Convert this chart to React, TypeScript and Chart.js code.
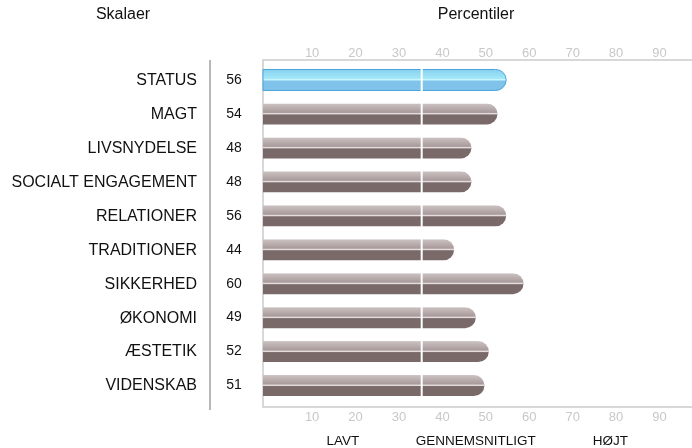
import React, { useEffect, useRef } from "react";
import { Chart, registerables } from "chart.js";

Chart.register(...registerables);

const CATEGORIES = [
  "STATUS",
  "MAGT",
  "LIVSNYDELSE",
  "SOCIALT ENGAGEMENT",
  "RELATIONER",
  "TRADITIONER",
  "SIKKERHED",
  "ØKONOMI",
  "ÆSTETIK",
  "VIDENSKAB",
];
const VALUES = [56, 54, 48, 48, 56, 44, 60, 49, 52, 51];
const HIGHLIGHT = [true, false, false, false, false, false, false, false, false, false];
const X_TICKS = [10, 20, 30, 40, 50, 60, 70, 80, 90];
const AVERAGE_LINE = 36.55;
const BAND_LABELS = ["LAVT", "GENNEMSNITLIGT", "HØJT"];
const BAND_POSITIONS = [18.4, 49, 80];

const FONT = "'Liberation Sans', Arial, sans-serif";

const drawPlugin = {
  id: "customDraw",
  afterDatasetsDraw(chart: any) {
    const ctx: CanvasRenderingContext2D = chart.ctx;
    const xs = chart.scales.x;
    const area = chart.chartArea;
    const meta = chart.getDatasetMeta(0);
    const frameTop = area.top - 3;
    const frameBottom = area.bottom + 4.5;
    const left = area.left;

    ctx.save();
    // frame
    ctx.strokeStyle = "#cccccc";
    ctx.lineWidth = 1.5;
    ctx.beginPath();
    ctx.moveTo(chart.width, frameTop);
    ctx.lineTo(left, frameTop);
    ctx.lineTo(left, frameBottom);
    ctx.lineTo(chart.width, frameBottom);
    ctx.stroke();

    // separator line in the label column
    ctx.strokeStyle = "#a0a0a0";
    ctx.lineWidth = 1.5;
    ctx.beginPath();
    ctx.moveTo(210, frameTop);
    ctx.lineTo(210, frameBottom + 3);
    ctx.stroke();

    // bars
    meta.data.forEach((el: any, i: number) => {
      const p = el.getProps(["x", "y", "base", "height"], true);
      const h = p.height;
      const top = p.y - h / 2;
      const bottom = p.y + h / 2;
      const l = p.base;
      const r = p.x;
      const rad = h / 2;
      const path = () => {
        ctx.beginPath();
        ctx.moveTo(l, top);
        ctx.lineTo(r - rad, top);
        ctx.arc(r - rad, p.y, rad, -Math.PI / 2, Math.PI / 2);
        ctx.lineTo(l, bottom);
        ctx.closePath();
      };
      const blue = HIGHLIGHT[i];
      ctx.save();
      path();
      ctx.clip();
      const g = ctx.createLinearGradient(0, top, 0, p.y);
      if (blue) {
        g.addColorStop(0, "#84d0ef");
        g.addColorStop(1, "#a8ecfa");
      } else {
        g.addColorStop(0, "#cdc3c3");
        g.addColorStop(1, "#a29393");
      }
      ctx.fillStyle = g;
      ctx.fillRect(l, top, r - l + 1, h / 2);
      ctx.fillStyle = blue ? "#80c3ea" : "#7a6969";
      ctx.fillRect(l, p.y, r - l + 1, h / 2 + 1);
      ctx.fillStyle = blue ? "#c8f6ff" : "#e4dcdc";
      ctx.fillRect(l, p.y - 1, r - l + 1, 1.5);
      ctx.restore();
      if (blue) {
        path();
        ctx.strokeStyle = "#4da3d9";
        ctx.lineWidth = 1;
        ctx.stroke();
      }
    });

    // average line
    const ax = xs.getPixelForValue(AVERAGE_LINE);
    ctx.strokeStyle = "#ffffff";
    ctx.lineWidth = 2;
    ctx.beginPath();
    ctx.moveTo(ax, area.top);
    ctx.lineTo(ax, area.bottom);
    ctx.stroke();

    // ticks
    ctx.fillStyle = "#c8c8c8";
    ctx.font = `13px ${FONT}`;
    ctx.textAlign = "center";
    ctx.textBaseline = "middle";
    X_TICKS.forEach((t) => {
      const tx = xs.getPixelForValue(t) + 5.7;
      ctx.fillText(String(t), tx, 53);
      ctx.fillText(String(t), tx, 417);
    });

    // band labels
    ctx.fillStyle = "#111111";
    ctx.font = `13.5px ${FONT}`;
    BAND_LABELS.forEach((b, i) => {
      ctx.fillText(b, xs.getPixelForValue(BAND_POSITIONS[i]), 441);
    });

    // category labels & numbers
    const ys = chart.scales.y;
    CATEGORIES.forEach((c, i) => {
      const cy = ys.getPixelForValue(i);
      ctx.textAlign = "right";
      ctx.font = `16px ${FONT}`;
      ctx.fillStyle = "#111111";
      ctx.fillText(c, 197, cy + 0.5);
      ctx.textAlign = "center";
      ctx.font = `14px ${FONT}`;
      ctx.fillText(String(VALUES[i]), 234, cy);
    });

    // headers
    ctx.font = `16px ${FONT}`;
    ctx.textAlign = "center";
    ctx.fillText("Skalaer", 123, 15);
    ctx.fillText("Percentiler", 476, 15);
    ctx.restore();
  },
};

export default function App() {
  const ref = useRef<HTMLCanvasElement>(null);
  useEffect(() => {
    if (!ref.current) return;
    const chart = new Chart(ref.current, {
      type: "bar",
      data: {
        labels: CATEGORIES,
        datasets: [
          {
            data: VALUES,
            backgroundColor: "rgba(0,0,0,0)",
            borderWidth: 0,
            barThickness: 21,
          },
        ],
      },
      options: {
        indexAxis: "y",
        animation: false,
        responsive: false,
        devicePixelRatio: 1,
        layout: { padding: { left: 263, right: 0, top: 63, bottom: 45.5 } },
        scales: {
          x: { type: "linear", min: 0, max: 98.8, display: false },
          y: { display: false },
        },
        plugins: { legend: { display: false }, tooltip: { enabled: false } },
      },
      plugins: [drawPlugin],
    } as any);
    return () => chart.destroy();
  }, []);
  return (
    <div style={{ position: "fixed", left: 0, top: 0, width: 692, height: 448, background: "#fff" }}>
      <canvas ref={ref} width={692} height={448} style={{ width: 692, height: 448 }} />
    </div>
  );
}
